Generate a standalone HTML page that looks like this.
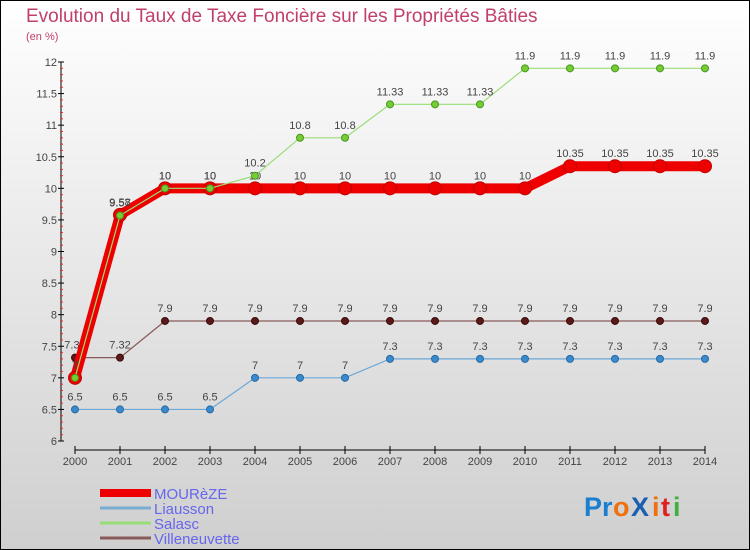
<!DOCTYPE html>
<html><head><meta charset="utf-8"><style>
body{margin:0;width:750px;height:550px;overflow:hidden;font-family:"Liberation Sans",sans-serif}
svg{display:block}
</style></head><body>
<svg id="c" width="750" height="550" xmlns="http://www.w3.org/2000/svg">
<defs><linearGradient id="bg" x1="0" y1="0" x2="0" y2="1"><stop offset="0" stop-color="#ffffff"/><stop offset="1" stop-color="#cfcfcf"/></linearGradient></defs>
<rect x="0.5" y="0.5" width="749" height="549" fill="url(#bg)" stroke="#000"/>
<text x="26" y="22" font-size="19" fill="#c0406a">Evolution du Taux de Taxe Foncière sur les Propriétés Bâties</text>
<text x="26" y="40" font-size="11" fill="#c0406a">(en %)</text>
<g id="axes"></g><g id="series"></g><g id="legend"></g>
<g font-size="27" font-weight="bold">
<text x="584" y="516" fill="#1a7fd0">Pr</text><text x="613" y="516" fill="#f07010">o</text><text x="631" y="516" fill="#1a5fb0">X</text><text x="652" y="516" fill="#f07010">i</text><text x="661" y="516" fill="#e02020">t</text><text x="673" y="516" fill="#40b040">i</text>
</g>
</svg>
<script>
const years=[2000,2001,2002,2003,2004,2005,2006,2007,2008,2009,2010,2011,2012,2013,2014];
const mourezeVals=[7,9.58,10,10,10,10,10,10,10,10,10,10.35,10.35,10.35,10.35];
const liaussonVals=[6.5,6.5,6.5,6.5,7,7,7,7.3,7.3,7.3,7.3,7.3,7.3,7.3,7.3];
const salascVals=[7,9.57,10,10,10.2,10.8,10.8,11.33,11.33,11.33,11.9,11.9,11.9,11.9,11.9];
const villeVals=[7.32,7.32,7.9,7.9,7.9,7.9,7.9,7.9,7.9,7.9,7.9,7.9,7.9,7.9,7.9];
const yTicks=[6,6.5,7,7.5,8,8.5,9,9.5,10,10.5,11,11.5,12];
const seriesNames=["MOURèZE","Liausson","Salasc","Villeneuvette"];
const NS="http://www.w3.org/2000/svg";
const X=i=>75+i*45;
const Y=v=>441-(v-6)*(379/6);
function mk(t,a,p){const e=document.createElementNS(NS,t);for(const k in a)e.setAttribute(k,a[k]);p.appendChild(e);return e;}
const ax=document.getElementById('axes');
let l=mk('line',{x1:61,y1:Y(12),x2:61,y2:Y(6),stroke:'#000'},ax);


l=mk('line',{x1:75,y1:450,x2:705,y2:450,stroke:'#000'},ax);


yTicks.forEach((v,i)=>{
 mk('line',{x1:58,y1:Y(v),x2:64,y2:Y(v),stroke:'#000'},ax);
 if(i<yTicks.length-1){for(let k=1;k<5;k++){mk('line',{x1:60,y1:Y(v+k*0.1),x2:63,y2:Y(v+k*0.1),stroke:'#e03030'},ax);}}
 const t=mk('text',{x:57,y:Y(v)+4,'text-anchor':'end','font-size':11,fill:'#444'},ax);
 t.textContent=v;
 
 
});
years.forEach((y,i)=>{
 mk('line',{x1:X(i),y1:446,x2:X(i),y2:454,stroke:'#000'},ax);
 const t=mk('text',{x:X(i),y:465,'text-anchor':'middle','font-size':11,fill:'#444'},ax);
 t.textContent=y;
 
 
});
const sg=document.getElementById('series');
function draw(vals,name,color,w,r,dot,stroke){
 const g=mk('g',{},sg);
 
 
 const p=mk('polyline',{points:vals.map((v,i)=>X(i)+','+Y(v)).join(' '),fill:'none',stroke:color,'stroke-width':w,'stroke-linejoin':'round'},g);
 
 
 vals.forEach((v,i)=>{
  const c=mk('circle',{cx:X(i),cy:Y(v),r:r,fill:dot,stroke:stroke,'stroke-width':1},g);
  
  
  const t=mk('text',{x:X(i),y:Y(v)-9,'text-anchor':'middle','font-size':11,fill:'#444'},g);
  t.textContent=v;
  
  
 });
}
draw(villeVals,'villeneuvette','#8a5a5a',1.2,3.5,'#5a1a1a','#3a0a0a');
draw(liaussonVals,'liausson','#6aa8d8',1.2,3.5,'#3a8ad0','#2a6aa0');
draw(mourezeVals,'moureze','#ee0000',10,6.5,'#ee0000','#c00000');
draw(salascVals,'salasc','#99dd77',1.2,3.5,'#77cc33','#449922');
const lg=document.getElementById('legend');
const lc=[['#ee0000',8],['#7aaed0',3],['#99dd77',3],['#8a5a5a',3]];
seriesNames.forEach((n,i)=>{
 const y=493+i*15;
 const g=mk('g',{},lg);
 
 
 mk('line',{x1:100,y1:y,x2:151,y2:y,stroke:lc[i][0],'stroke-width':lc[i][1]},g);
 const t=mk('text',{x:154,y:y+6,'font-size':15,fill:'#6666ee'},g);
 t.textContent=n;
});
</script>
</body></html>
